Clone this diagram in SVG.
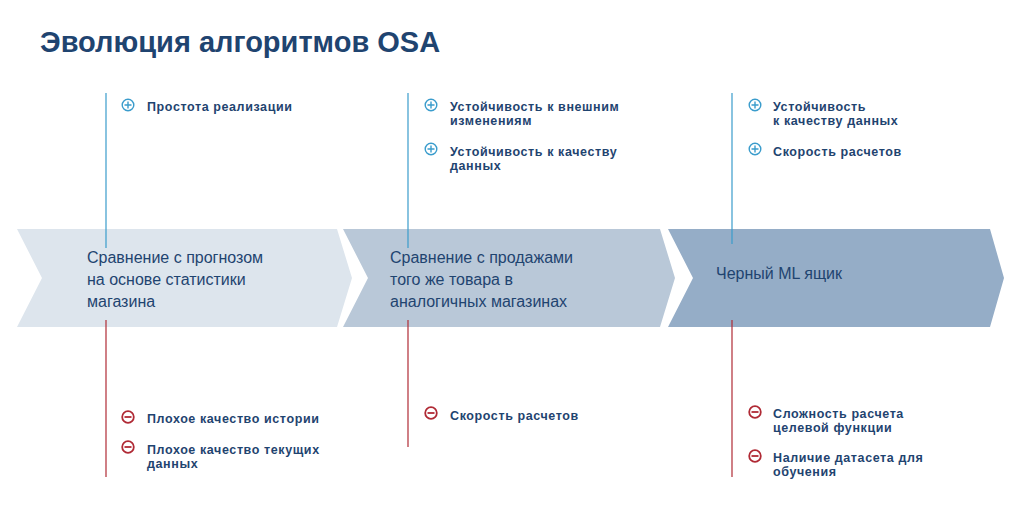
<svg xmlns="http://www.w3.org/2000/svg" width="1024" height="532" viewBox="0 0 1024 532">
<style>
.t{font-family:"Liberation Sans",Arial,sans-serif;font-size:12.5px;font-weight:bold;fill:#1f4470;letter-spacing:0.6px}
.m{font-family:"Liberation Sans",Arial,sans-serif;font-size:16px;fill:#1f4470}
.bl{stroke:#3a9ccc;stroke-width:1.2}
.rl{stroke:#b02a35;stroke-width:1.2}
.p{fill:none;stroke:#3a9ccc;stroke-width:1.4}
.n{fill:none;stroke:#b02a35;stroke-width:1.8}
</style>
<defs>
<g id="plus"><circle r="5.8" class="p"/><path d="M-3.5 0H3.5M0 -3.5V3.5" class="p"/></g>
<g id="minus"><circle r="5.8" class="n"/><path d="M-3.5 0H3.5" class="n"/></g>
</defs>
<rect width="1024" height="532" fill="#fff"/>
<text x="40" y="52" font-family="Liberation Sans,Arial,sans-serif" font-size="29" font-weight="bold" fill="#1f4470">Эволюция алгоритмов OSA</text>
<g id="stage1"><polygon points="17,229 337,229 352,278 337,327 17,327 42,278" fill="#dde5ed"/>
<text class="m"><tspan x="87" y="263">Сравнение с прогнозом</tspan><tspan x="87" y="285">на основе статистики</tspan><tspan x="87" y="307">магазина</tspan></text></g>
<g id="stage2"><polygon points="343,229 660,229 675,278 660,327 343,327 368,278" fill="#b9c8d8"/>
<text class="m"><tspan x="390" y="263">Сравнение с продажами</tspan><tspan x="390" y="285">того же товара в</tspan><tspan x="390" y="307">аналогичных магазинах</tspan></text></g>
<g id="stage3"><polygon points="668,229 990,229 1004,278 990,327 668,327 693,278" fill="#95adc7"/>
<text class="m" x="716" y="279">Черный ML ящик</text></g>
<g id="connectors">
<line class="bl" x1="106" y1="93" x2="106" y2="248"/>
<line class="bl" x1="408" y1="93" x2="408" y2="248"/>
<line class="bl" x1="732" y1="93" x2="732" y2="244"/>
<line class="rl" x1="106" y1="320" x2="106" y2="477"/>
<line class="rl" x1="408" y1="320" x2="408" y2="447"/>
<line class="rl" x1="732" y1="320" x2="732" y2="477"/>
</g>
<g id="pros1"><use href="#plus" x="128" y="105"/><text class="t" x="147" y="111">Простота реализации</text></g>
<g id="pros2"><use href="#plus" x="431" y="105"/><text class="t"><tspan x="450" y="111">Устойчивость к внешним</tspan><tspan x="450" y="125">изменениям</tspan></text>
<use href="#plus" x="431" y="149"/><text class="t"><tspan x="450" y="156">Устойчивость к качеству</tspan><tspan x="450" y="170">данных</tspan></text></g>
<g id="pros3"><use href="#plus" x="755" y="105"/><text class="t"><tspan x="773" y="111">Устойчивость</tspan><tspan x="773" y="125">к качеству данных</tspan></text>
<use href="#plus" x="755" y="149"/><text class="t" x="773" y="156">Скорость расчетов</text></g>
<g id="cons1"><use href="#minus" x="128" y="417"/><text class="t" x="147" y="423">Плохое качество истории</text>
<use href="#minus" x="128" y="447"/><text class="t"><tspan x="147" y="454">Плохое качество текущих</tspan><tspan x="147" y="468">данных</tspan></text></g>
<g id="cons2"><use href="#minus" x="431" y="413"/><text class="t" x="450" y="420">Скорость расчетов</text></g>
<g id="cons3"><use href="#minus" x="755" y="412"/><text class="t"><tspan x="773" y="418">Сложность расчета</tspan><tspan x="773" y="432">целевой функции</tspan></text>
<use href="#minus" x="755" y="456"/><text class="t"><tspan x="773" y="462">Наличие датасета для</tspan><tspan x="773" y="476">обучения</tspan></text></g>
</svg>
